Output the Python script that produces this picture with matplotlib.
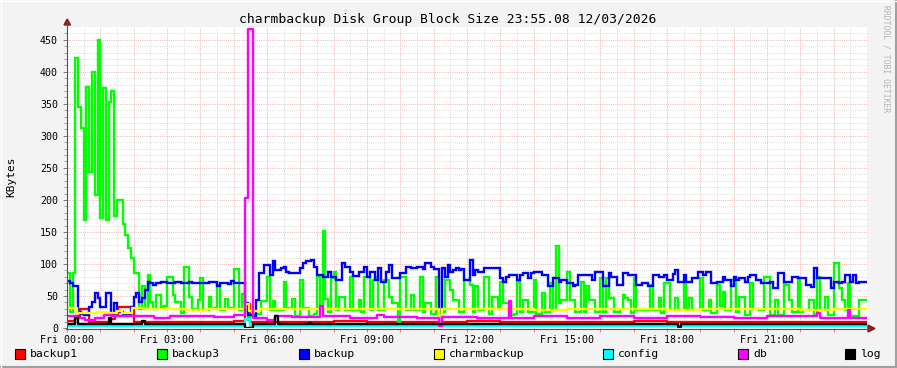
import numpy as np
import matplotlib
matplotlib.use("Agg")
import matplotlib.pyplot as plt
from matplotlib.patches import Polygon, Rectangle
from matplotlib.lines import Line2D

W, H = 897, 368

title = "charmbackup Disk Group Block Size 23:55.08 12/03/2026"
xtick_hours = [0, 3, 6, 9, 12, 15, 18, 21]
xtick_labels = ["Fri 00:00", "Fri 03:00", "Fri 06:00", "Fri 09:00",
                "Fri 12:00", "Fri 15:00", "Fri 18:00", "Fri 21:00"]

# backup3 / backup : one value per 5 min (12 per hour)
backup3 = [
    86, 25, 86, 422, 345, 312, 169, 377, 244, 400, 208, 450,
    172, 375, 169, 353, 370, 175, 200, 200, 162, 145, 125, 110,
    86, 86, 30, 65, 30, 83, 40, 30, 52, 52, 33, 35,
    80, 80, 52, 40, 40, 23, 96, 96, 49, 30, 30, 44,
    78, 28, 28, 48, 31, 31, 67, 28, 28, 46, 31, 31,
    92, 92, 28, 53, 28, 12, 20, 22, 22, 22, 42, 42,
    80, 28, 42, 28, 28, 28, 72, 31, 31, 45, 18, 18,
    75, 31, 31, 18, 18, 22, 80, 30, 152, 45, 25, 78,
    88, 28, 49, 49, 28, 28, 80, 28, 28, 44, 25, 80,
    80, 28, 75, 80, 28, 28, 75, 75, 49, 39, 39, 8,
    80, 80, 28, 28, 52, 28, 28, 80, 25, 39, 39, 22,
    22, 80, 25, 25, 75, 75, 59, 44, 44, 25, 25, 75,
    75, 67, 25, 65, 28, 28, 80, 80, 22, 49, 49, 30,
    72, 39, 39, 20, 20, 22, 72, 25, 44, 44, 25, 25,
    75, 22, 22, 54, 25, 25, 70, 28, 128, 39, 44, 44,
    88, 44, 44, 25, 25, 72, 25, 65, 44, 44, 25, 25,
    78, 25, 78, 47, 47, 25, 25, 30, 52, 47, 44, 23,
    78, 28, 28, 28, 28, 28, 67, 28, 28, 47, 23, 70,
    70, 28, 28, 47, 28, 28, 72, 32, 47, 28, 28, 28,
    78, 28, 28, 44, 23, 23, 67, 35, 56, 28, 28, 75,
    75, 25, 49, 49, 20, 20, 70, 30, 30, 28, 28, 80,
    80, 20, 20, 44, 20, 20, 70, 67, 44, 25, 25, 78,
    25, 28, 28, 44, 44, 20, 80, 28, 28, 49, 20, 20,
    101, 101, 62, 44, 28, 70, 18, 18, 18, 44, 44, 44,
]
backup = [
    74, 70, 66, 66, 25, 22, 21, 21, 33, 41, 54, 47,
    33, 33, 54, 54, 21, 39, 27, 25, 22, 22, 22, 33,
    49, 55, 41, 47, 59, 72, 70, 67, 70, 70, 72, 72,
    71, 70, 70, 72, 72, 70, 70, 70, 72, 71, 70, 70,
    70, 70, 70, 72, 72, 72, 66, 70, 70, 70, 68, 73,
    71, 71, 71, 71, 39, 20, 20, 18, 44, 86, 86, 98,
    98, 83, 104, 90, 90, 94, 96, 88, 86, 86, 86, 86,
    94, 101, 104, 104, 106, 96, 83, 83, 80, 80, 88, 80,
    80, 75, 75, 101, 96, 96, 88, 81, 81, 88, 88, 96,
    80, 88, 88, 75, 94, 72, 72, 88, 98, 78, 78, 78,
    86, 86, 96, 96, 94, 94, 96, 96, 92, 101, 101, 96,
    92, 92, 5, 94, 80, 98, 88, 90, 94, 90, 92, 75,
    75, 106, 83, 90, 88, 88, 94, 94, 94, 94, 94, 94,
    78, 72, 80, 83, 83, 83, 75, 83, 86, 86, 78, 86,
    88, 88, 88, 83, 83, 65, 65, 78, 78, 72, 75, 75,
    70, 70, 65, 67, 83, 83, 83, 83, 83, 75, 88, 88,
    88, 65, 65, 86, 80, 80, 67, 67, 86, 86, 82, 83,
    83, 67, 67, 70, 70, 66, 66, 83, 83, 80, 80, 83,
    75, 75, 85, 90, 72, 72, 82, 72, 72, 78, 78, 88,
    88, 83, 88, 88, 70, 70, 72, 72, 80, 75, 75, 65,
    80, 75, 78, 78, 72, 80, 83, 83, 75, 75, 70, 70,
    70, 72, 62, 62, 86, 86, 72, 72, 72, 80, 80, 78,
    78, 78, 67, 67, 64, 94, 78, 78, 78, 78, 78, 62,
    72, 72, 70, 72, 83, 83, 72, 83, 70, 72, 72, 72,
]

# quieter series as change points: hour, value
t_backup1 = [0, 0.25, 0.4, 0.67, 0.85, 1.3, 1.45, 1.53, 2.0, 2.5, 3.0, 4.0, 5.0,
             5.33, 5.5, 6.5, 7.0, 8.0, 9.0, 10.0, 11.0, 12.0, 13.0, 14.0, 15.0,
             16.0, 17.0, 18.0, 19.0, 20.0, 21.0, 22.0, 23.0]
v_backup1 = [11, 18, 30, 10, 9, 14, 22, 33, 10, 9, 10, 10, 11,
             38, 9, 10, 9, 11, 10, 9, 10, 11, 9, 10, 9,
             10, 11, 10, 9, 10, 10, 9, 10]

t_charm = [0, 0.3, 0.9, 1.2, 1.5, 1.65, 1.95, 2.3, 3.0, 3.6, 4.2, 5.0, 5.33, 5.45,
           5.8, 6.5, 7.2, 8.0, 9.0, 10.0, 11.17, 11.25, 12.0, 13.0, 14.0, 15.0,
           16.0, 17.0, 18.0, 19.0, 20.0, 21.0, 22.0, 23.0]
v_charm = [31, 24, 25, 24, 27, 23, 31, 29, 30, 28, 30, 29, 38, 26,
           30, 29, 30, 29, 30, 29, 8, 30, 29, 30, 28, 30,
           29, 30, 28, 30, 29, 30, 28, 30]

t_config = [0, 5.33, 5.5]
v_config = [3, 14, 3]

t_db = [0, 0.3, 0.55, 0.85, 1.1, 1.35, 2.6, 3.1, 4.4, 5.0, 5.33, 5.44, 5.57, 6.0,
        6.25, 6.75, 7.58, 7.67, 8.5, 9.3, 9.5, 10.5, 11.17, 11.25, 12.3, 13.25,
        13.33, 14.0, 15.0, 16.0, 17.0, 18.0, 19.0, 20.0, 21.0, 22.5, 22.6, 23.42, 23.5]
v_db = [18, 16, 12, 16, 20, 18, 16, 18, 17, 20, 203, 467, 15, 12,
        19, 17, 34, 18, 16, 20, 17, 16, 3, 17, 15, 42,
        16, 18, 16, 18, 15, 19, 17, 15, 18, 23, 16, 28, 16]

t_log = [0, 0.25, 0.33, 1.25, 1.33, 2.25, 2.33, 5.33, 5.58, 6.25, 6.33, 7.25, 7.33,
         18.33, 18.42]
v_log = [6, 15, 6, 15, 6, 11, 6, 0, 6, 18, 6, 8, 6, 2, 6]

names = ["backup1", "backup3", "backup", "charmbackup", "config", "db", "log"]
colors = ["#FF0000", "#00FF00", "#0000FF", "#FFFF00", "#00FFFF", "#FF00FF", "#000000"]

plt.rcParams['font.family'] = ['DejaVu Sans Mono']


def fx(x):
    return x / W


def fy(y):
    return 1 - y / H


fig = plt.figure(figsize=(W / 100, H / 100), dpi=100, facecolor='#F3F3F3')
ax = fig.add_axes([fx(67), fy(328), 800 / W, 301 / H])
ax.set_facecolor('white')
ax.set_xlim(0, 24)
ax.set_ylim(0, 470)

# grid like rrdtool: grey dotted minor, pink dotted major
for v in np.arange(10, 470, 10):
    c = '#F5B4B4' if v % 50 == 0 else '#DCDCDC'
    ax.axhline(v, color=c, lw=0.72, ls=(0, (1, 1.2)), zorder=1)
for h in np.arange(0.5, 24, 0.5):
    c = '#F5B4B4' if h % 1 == 0 else '#DCDCDC'
    ax.axvline(h, color=c, lw=0.72, ls=(0, (1, 1.2)), zorder=1)

edges = np.arange(len(backup3) + 1) / 12.0
lw = 1.7


def step(t, v, color, z):
    ax.step(list(t) + [24], list(v) + [v[-1]], where='post', color=color, lw=lw, zorder=z)


step(t_backup1, v_backup1, colors[0], 3)
ax.stairs(backup3, edges, color=colors[1], lw=lw, zorder=4, baseline=None)
ax.stairs(backup, edges, color=colors[2], lw=lw, zorder=5, baseline=None)
step(t_charm, v_charm, colors[3], 6)
step(t_config, v_config, colors[4], 7)
step(t_db, v_db, colors[5], 8)
step(t_log, v_log, colors[6], 9)

ax.set_yticks(np.arange(0, 451, 50))
ax.set_yticks(np.arange(0, 470, 10), minor=True)
ax.set_xticks(np.arange(0, 24, 1))
ax.set_xticklabels([xtick_labels[xtick_hours.index(h)] if h in xtick_hours else ""
                    for h in range(24)])
ax.set_xticks([], minor=True)
ax.tick_params(axis='y', which='major', length=3, width=0.72, color='#808080',
               labelsize=7.2, pad=3.5, labelcolor='black')
ax.tick_params(axis='y', which='minor', length=2, width=0.72, color='#A0A0A0')
ax.tick_params(axis='x', which='major', length=3, width=0.72, color='#E08080',
               labelsize=7.2, pad=2.2, labelcolor='black')
for s in ax.spines.values():
    s.set_visible(False)

# axes with arrows
axis_c = '#5E5050'
fig.add_artist(Line2D([fx(67), fx(67)], [fy(328.5), fy(22)], color=axis_c, lw=0.8))
fig.add_artist(Line2D([fx(66), fx(870)], [fy(328.5), fy(328.5)], color=axis_c, lw=0.8))
arrow_c = '#8B1A1A'
fig.add_artist(Polygon([(fx(64), fy(25)), (fx(70.5), fy(25)), (fx(67.2), fy(19))],
                       closed=True, color=arrow_c))
fig.add_artist(Polygon([(fx(868), fy(325)), (fx(868), fy(332)), (fx(875), fy(328.5))],
                       closed=True, color=arrow_c))

fig.text(fx(448), fy(19), title, ha='center', va='center', fontsize=9.4)
fig.text(fx(11), fy(177), "KBytes", rotation=90, ha='center', va='center', fontsize=8)
fig.text(fx(886), fy(59), "RRDTOOL / TOBI OETIKER", rotation=-90, ha='center',
         va='center', fontsize=5.8, color='#B4B4B4')

# legend row
sq_x = [15, 157, 299, 434, 603, 738, 845]
for x0, name, c in zip(sq_x, names, colors):
    fig.add_artist(Rectangle((fx(x0), fy(359)), 10 / W, 10 / H, facecolor=c,
                             edgecolor='black', lw=0.8))
    fig.text(fx(x0 + 15), fy(354), name, ha='left', va='center', fontsize=8.2)

# 3d-ish border
fig.add_artist(Line2D([0, 1], [fy(367), fy(367)], color='#A0A0A0', lw=1.5))
fig.add_artist(Line2D([fx(896), fx(896)], [0, 1], color='#A0A0A0', lw=1.5))
fig.add_artist(Line2D([0, 1], [fy(0.5), fy(0.5)], color='#FFFFFF', lw=1))
fig.add_artist(Line2D([fx(0.5), fx(0.5)], [0, 1], color='#FFFFFF', lw=1))

fig.savefig("out.png", dpi=100, facecolor=fig.get_facecolor())
plt.close(fig)
